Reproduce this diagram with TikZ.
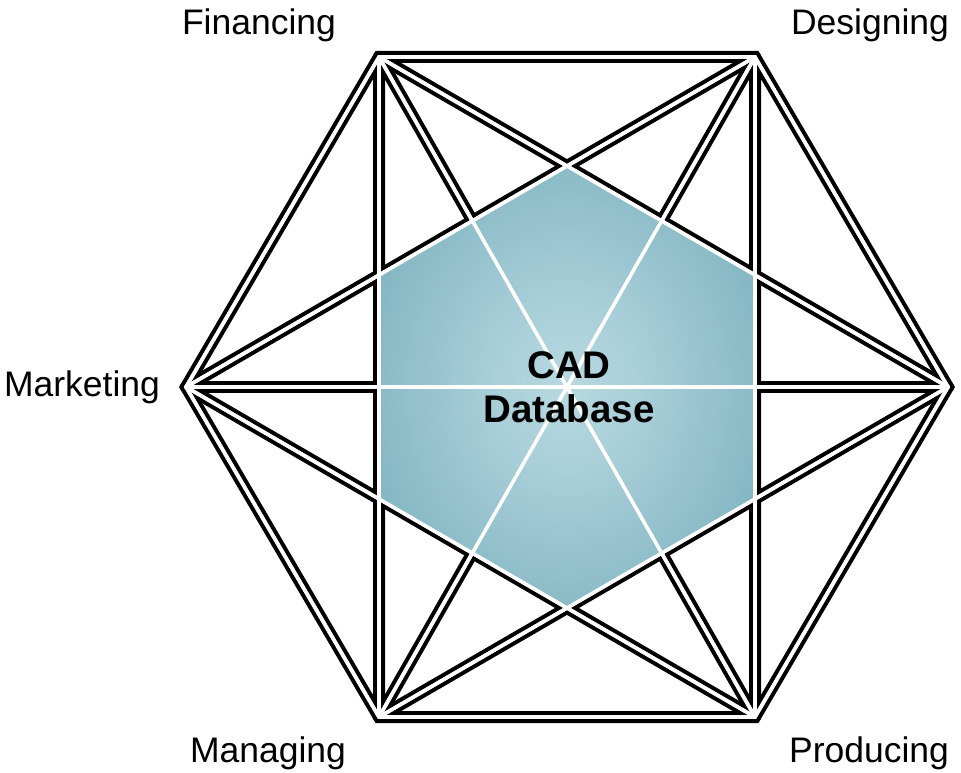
\documentclass[tikz,border=0pt]{standalone}
\usepackage{fontspec}
\setmainfont{Liberation Sans}
\pgfdeclareradialshading{cadglow}{\pgfpoint{0bp}{0bp}}{rgb(0bp)=(0.72,0.85,0.88); rgb(10bp)=(0.66,0.81,0.85); rgb(46bp)=(0.37,0.62,0.68); rgb(50bp)=(0.37,0.62,0.68)}
\newcommand\cadnet[2]{%
  \draw[#1] (TL)--(TR)--(R)--(BR)--(BL)--(L)--cycle;
  \draw[#2] (TL)--(R)--(BL)--cycle;
  \draw[#2] (TR)--(BR)--(L)--cycle;
  \draw[#2] (TL)--(BR);
  \draw[#2] (TR)--(BL);
  \draw[#2] (L)--(R);
}
\begin{document}
\begin{tikzpicture}[x=1pt,y=-1pt,
  outerblack/.style={line width=12pt, black, line join=miter},
  innerblack/.style={line width=12pt, black, line join=round, line cap=round},
  outercore/.style={line width=3.6pt, white, line join=miter},
  innercore/.style={line width=3.6pt, white, line join=round, line cap=round},
  lbl/.style={font=\fontsize{35.5}{40}\selectfont, inner sep=0pt, anchor=base},
  hub/.style={font=\bfseries\fontsize{38.5}{44}\selectfont, inner sep=0pt, align=center}
]
\useasboundingbox (0,0) rectangle (961,773);
\fill[white] (0,0) rectangle (961,773);
% outer vertices
\coordinate (TL) at (379,57);
\coordinate (TR) at (755,57);
\coordinate (R)  at (948,387);
\coordinate (BR) at (755,717);
\coordinate (BL) at (379,717);
\coordinate (L)  at (186,387);
% inner hexagon vertices
\coordinate (IT)  at (intersection of TL--R and TR--L);
\coordinate (ITR) at (intersection of TL--R and TR--BR);
\coordinate (IBR) at (intersection of BL--R and TR--BR);
\coordinate (IB)  at (intersection of BL--R and BR--L);
\coordinate (IBL) at (intersection of BR--L and TL--BL);
\coordinate (ITL) at (intersection of TR--L and TL--BL);
% black outlines, then white cores
\cadnet{outerblack}{innerblack}
\cadnet{outercore}{innercore}
% shaded database hexagon
\shade[shading=cadglow] (IT)--(ITR)--(IBR)--(IB)--(IBL)--(ITL)--cycle;
\cadnet{outercore}{innercore}
% labels
\node[hub] (cad) at (569,387) {CAD\\Database};
\node[lbl] (fin) at (259,35) {Financing};
\node[lbl] (des) at (870,35) {Designing};
\node[lbl] (mkt) at (82,396) {Marketing};
\node[lbl] (man) at (268,762) {Managing};
\node[lbl] (pro) at (869,762) {Producing};
\end{tikzpicture}
\end{document}
